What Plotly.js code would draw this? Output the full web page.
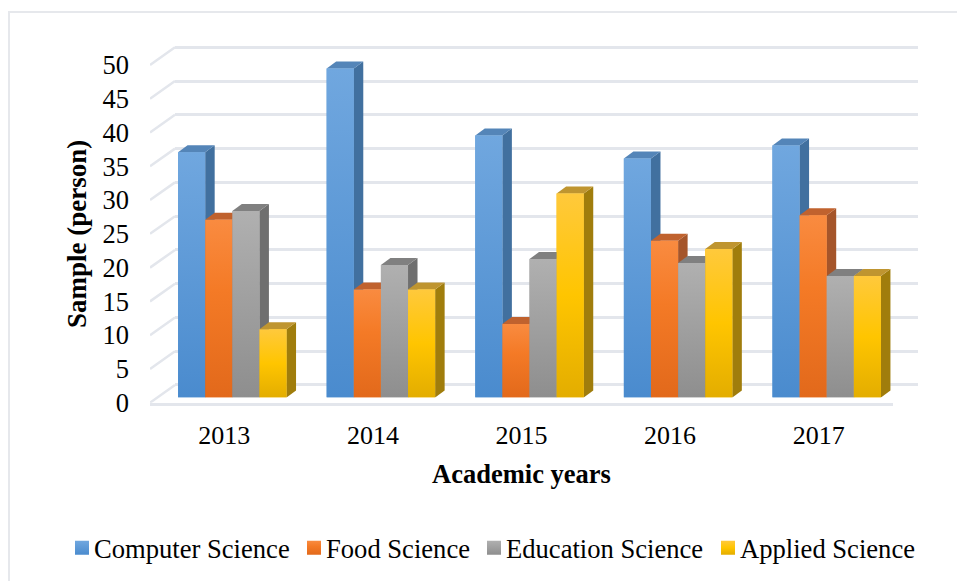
<!DOCTYPE html>
<html><head><meta charset="utf-8">
<script src="https://cdn.plot.ly/plotly-3.0.1.min.js"></script>
<style>html,body{margin:0;padding:0;background:#fff}</style></head>
<body><div id="chart" style="width:957px;height:581px"></div>
<script>
const years = ['2013','2014','2015','2016','2017'];
const computerScience = [36.3, 48.7, 38.8, 35.4, 37.3];
const foodScience = [26.3, 16.0, 10.9, 23.2, 27.0];
const educationScience = [27.6, 19.6, 20.5, 19.9, 18.0];
const appliedScience = [10.1, 16.0, 30.2, 22.0, 18.0];
const seriesNames = ['Computer Science','Food Science','Education Science','Applied Science'];
const seriesValues = [computerScience, foodScience, educationScience, appliedScience];
const frontColors = [
  [[0,'#4a8bce'],[1,'#70a7df']],
  [[0,'#e2691b'],[0.6,'#f47a26'],[1,'#f98b40']],
  [[0,'#8e8e8e'],[1,'#b0b0b0']],
  [[0,'#e3ad00'],[0.5,'#ffc500'],[1,'#ffc93c']]
];
const legendColors = ['#5b9ad5','#f07a2a','#a5a5a5','#ffc000'];
const sideColors = ['#41709f','#a5552a','#6f6f6f','#a07d0c'];
const topColors = ['#5485b8','#c0622e','#808080','#bf9530'];
const legendTextStarts = [94,326,506,740];

const W = 957, H = 581, PX_PER_CAT = 148.6, PX_PER_UNIT = 6.754;
const fx = (a,b)=>[a/W,b/W];
const fy = (bottom,top)=>[1-bottom/H,1-top/H];

const barW = 0.1825, depthX = 9.5/PX_PER_CAT, depthY = 7/PX_PER_UNIT;
const wallX = 25/PX_PER_CAT, wallY = 17.7/PX_PER_UNIT;
const ticks = [0,5,10,15,20,25,30,35,40,45,50];

const traces = [];
seriesNames.forEach((n,s)=>traces.push({type:'bar',name:n,x:years.map((_,i)=>i),y:seriesValues[s],
  xaxis:'x3',yaxis:'y3',marker:{color:legendColors[s],line:{width:0}},hoverinfo:'name+y'}));
traces.push({type:'scatter',x:[0],y:[0],xaxis:'x2',yaxis:'y2',mode:'none',showlegend:false,hoverinfo:'skip'});
traces.push({type:'scatter',x:[0],y:[0],xaxis:'x',yaxis:'y',mode:'none',showlegend:false,hoverinfo:'skip'});
ticks.forEach(t=>traces.push({type:'scatter',mode:'lines',x:[-0.5,-0.5+wallX],y:[t,t+wallY],xaxis:'x4',yaxis:'y4',
  line:{color:'#e3e6ec',width:2.5},cliponaxis:false,showlegend:false,hoverinfo:'skip'}));
years.forEach((_,i)=>{
  seriesNames.forEach((n,s)=>{
    const v = seriesValues[s][i];
    const l = i - 2*barW + s*barW, r = l + barW;
    const poly=(xs,ys,extra)=>traces.push(Object.assign({type:'scatter',mode:'none',x:xs,y:ys,xaxis:'x3',yaxis:'y3',
      fill:'toself',cliponaxis:false,showlegend:false,hoverinfo:'skip'},extra));
    poly([r,r+depthX,r+depthX,r,r],[0,depthY,v+depthY,v,0],{fillcolor:sideColors[s]});
    poly([l,l+depthX,r+depthX,r,l],[v,v+depthY,v+depthY,v,v],{fillcolor:topColors[s]});
    poly([l,r,r,l,l],[0,0,v,v,0],{fillgradient:{type:'vertical',colorscale:frontColors[s]}});
  });
});

const font = {family:'"Liberation Serif","Times New Roman",serif',color:'#000'};
const hidden = {showgrid:false,zeroline:false,showticklabels:false,ticks:'',showline:false};
const layout = {
  width:W,height:H,margin:{l:0,r:0,t:0,b:0,pad:0},autosize:false,
  paper_bgcolor:'#fff',plot_bgcolor:'rgba(0,0,0,0)',
  barmode:'group',bargap:0.27,bargroupgap:0,showlegend:true,
  font:Object.assign({size:26},font),
  // front plane: tick labels, floor edge
  xaxis:{domain:fx(150,893),anchor:'y',range:[-0.5,4.5],tickmode:'array',tickvals:[0,1,2,3,4],ticktext:years,
    tickfont:Object.assign({size:26},font),ticks:'',ticklabelstandoff:7,showgrid:false,zeroline:false,
    showline:true,linecolor:'#e3e6ec',linewidth:2.5,
    title:{text:'Academic years',font:Object.assign({size:26.5},font,{weight:'bold'}),standoff:16}},
  yaxis:{domain:fy(402.7,65),anchor:'x',range:[0,50],tickmode:'array',tickvals:ticks,
    tickfont:Object.assign({size:26.5},font),ticks:'',ticklabelstandoff:20,showgrid:false,zeroline:false,showline:false,
    title:{text:'Sample (person)',font:Object.assign({size:27},font,{weight:'bold'}),standoff:8}},
  // back wall: gridlines (range runs past 0 and 50 so both edge lines are drawn)
  xaxis2:Object.assign({domain:fx(175,918),anchor:'y2',range:[-0.5,4.5]},hidden),
  yaxis2:{domain:fy(385+PX_PER_UNIT,47.3-PX_PER_UNIT),anchor:'x2',range:[-1,51],tickmode:'array',tickvals:ticks,showgrid:true,gridcolor:'#e3e6ec',gridwidth:2.5,
    zeroline:false,showticklabels:false,ticks:'',showline:false},
  // bar plane
  xaxis3:Object.assign({domain:fx(158,901),anchor:'y3',range:[-0.5,4.5]},hidden),
  yaxis3:Object.assign({domain:fy(397.5,59.8),anchor:'x3',range:[0,50]},hidden),
  // side wall lines: same scale as the front plane, range runs past the top line
  xaxis4:Object.assign({domain:fx(150,893),anchor:'y4',range:[-0.5,4.5]},hidden),
  yaxis4:Object.assign({domain:fy(402.7,402.7-54*PX_PER_UNIT),anchor:'x4',range:[0,54]},hidden),
  legend:{orientation:'h',x:0.5,xanchor:'center',y:1-548/H,yanchor:'middle',font:Object.assign({size:26.6},font),
    itemwidth:30,bgcolor:'rgba(0,0,0,0)',traceorder:'normal'},
  shapes:[
    {type:'line',xref:'paper',yref:'paper',x0:8/W,x1:1,y0:1-12/H,y1:1-12/H,line:{color:'#e6e8ec',width:2},layer:'below'},
    {type:'line',xref:'paper',yref:'paper',x0:9/W,x1:9/W,y0:0,y1:1-12/H,line:{color:'#e6e8ec',width:2},layer:'below'}
  ]
};
Plotly.newPlot('chart',traces,layout,{displayModeBar:false,responsive:false}).then(gd=>{
  // Legend spacing: the reference has a tighter swatch/text gap and larger gradient swatches than plotly's defaults.
  const svg = gd.querySelector('svg.main-svg');
  const defs = svg.querySelector('defs');
  const legend = gd.querySelector('g.legend');
  const lx = parseFloat(legend.getAttribute('transform').match(/translate\(([-\d.]+)/)[1]);
  gd.querySelectorAll('g.legend g.traces').forEach((g,s)=>{
    const text = g.querySelector('text.legendtext');
    const tx = parseFloat(text.getAttribute('x'));
    const yAttr = g.getAttribute('transform').match(/,\s*([-\d.]+)\)/)[1];
    g.setAttribute('transform',`translate(${legendTextStarts[s]-lx-tx},${yAttr})`);
    const p = g.querySelector('g.legendpoints path');
    p.setAttribute('d','M-7,-7h14v14h-14z');
    p.setAttribute('transform',`translate(${tx-12},0)`);
    const grad = document.createElementNS('http://www.w3.org/2000/svg','linearGradient');
    grad.setAttribute('id','lg'+s); grad.setAttribute('x1','0'); grad.setAttribute('y1','0'); grad.setAttribute('x2','0'); grad.setAttribute('y2','1');
    frontColors[s].slice().reverse().forEach(([o,c])=>{
      const st = document.createElementNS('http://www.w3.org/2000/svg','stop');
      st.setAttribute('offset',1-o); st.setAttribute('stop-color',c); grad.appendChild(st);
    });
    defs.appendChild(grad);
    p.style.fill = `url(#lg${s})`;
  });
});
</script></body></html>
